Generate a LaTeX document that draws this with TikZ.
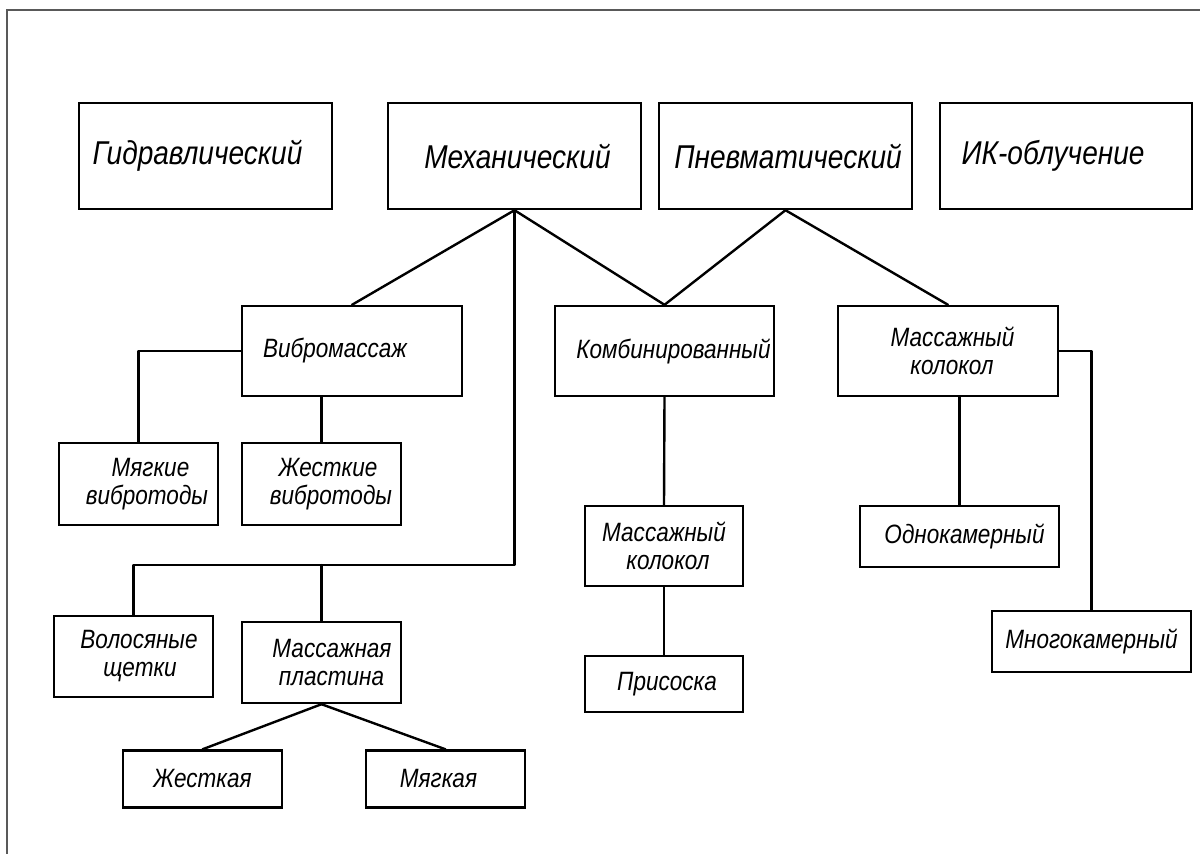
\documentclass[tikz,border=0pt]{standalone}
\usepackage{fontspec}
\newfontfamily\gost[FakeStretch=0.85]{Liberation Sans}
\begin{document}
\begin{tikzpicture}[x=1pt,y=-1pt,
  box/.style={draw=black, line width=2.4pt, rectangle, inner sep=0pt, align=center,
    font=\gost\itshape\fontsize{26.5}{28}\selectfont},
  topbox/.style={box, minimum width=253pt, minimum height=106pt,
    font=\gost\itshape\fontsize{33}{36}\selectfont},
  conn/.style={line width=2.4pt, line cap=round, line join=round}]
\useasboundingbox (0,0) rectangle (1200,854);
\fill[white] (0,0) rectangle (1200,854);
\draw[gray!70!black, line width=1.3pt] (7,854) -- (7,10) -- (1200,10);

% top level
\node[topbox] (hydr) at (205.5,156) {\hspace*{-16pt}Гидравлический};
\node[topbox] (mech) at (514.5,156) {\hspace*{6pt}Механический};
\node[topbox] (pneu) at (785.5,156) {\hspace*{5pt}Пневматический};
\node[topbox, minimum width=252pt] (ik) at (1066,156) {\hspace*{-26pt}ИК-облучение};

% second level
\node[box, minimum width=220pt, minimum height=90pt] (vib) at (352,351) {\hspace*{-34pt}Вибромассаж};
\node[box, minimum width=219pt, minimum height=90pt] (komb) at (664.5,351) {\hspace*{18pt}Комбинированный};
\node[box, minimum width=220pt, minimum height=90pt] (mk2) at (948,351) {\hspace*{9pt}Массажный\\\hspace*{8pt}колокол};

% vibro children
\node[box, minimum width=159pt, minimum height=82pt] (softv) at (138.5,484) {\hspace*{24pt}Мягкие\\\hspace*{17pt}вибротоды};
\node[box, minimum width=159pt, minimum height=82pt] (hardv) at (321.5,484) {\hspace*{13pt}Жесткие\\\hspace*{19pt}вибротоды};

% mechanical lower branch
\coordinate (j) at (514.5,565);
\node[box, minimum width=159pt, minimum height=81pt] (hair) at (133.5,656.5) {\hspace*{11pt}Волосяные\\\hspace*{13pt}щетки};
\node[box, minimum width=159pt, minimum height=81pt] (plate) at (321.5,662.5) {\hspace*{21pt}Массажная\\\hspace*{20pt}пластина};
\node[box, minimum width=159pt, minimum height=57pt] (hard) at (202.5,779) {Жесткая};
\node[box, minimum width=159pt, minimum height=57pt] (soft) at (445.5,779) {\hspace*{-14pt}Мягкая};

% combined children
\node[box, minimum width=158pt, minimum height=80pt] (mk1) at (664,546) {Массажный\\\hspace*{8pt}колокол};
\node[box, minimum width=158pt, minimum height=56pt] (pris) at (664,684) {\hspace*{6pt}Присоска};

% bell children
\node[box, minimum width=199pt, minimum height=61pt] (one) at (959.5,536.5) {\hspace*{10pt}Однокамерный};
\node[box, minimum width=199pt, minimum height=61pt] (multi) at (1091.5,641.5) {Многокамерный};

% connectors
\draw[conn] (mech.south) -- (vib.north);
\draw[conn] (mech.south) -- (komb.north);
\draw[conn] (pneu.south) -- (komb.north);
\draw[conn] (pneu.south) -- (mk2.north);
\draw[conn] (vib.west) -| (softv.north);
\draw[conn] (vib.south -| hardv.north) -- (hardv.north);
\draw[conn] (mech.south) -- (j) -| (hair.north);
\draw[conn] (j -| plate.north) -- (plate.north);
\draw[conn] (plate.south) -- (hard.north);
\draw[conn] (plate.south) -- (soft.north);
\draw[conn] (komb.south) -- (mk1.north);
\draw[conn] (mk1.south) -- (pris.north);
\draw[conn] (mk2.south -| one.north) -- (one.north);
\draw[conn] (mk2.east) -| (multi.north);
\end{tikzpicture}
\end{document}
